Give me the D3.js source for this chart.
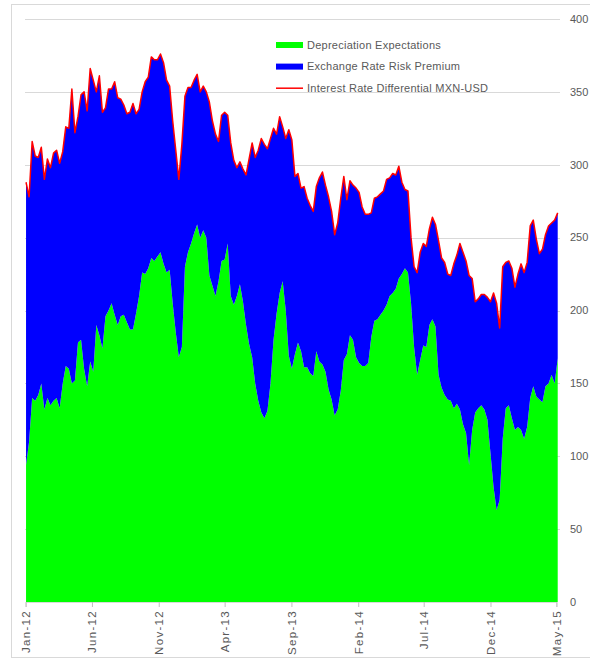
<!DOCTYPE html>
<html>
<head>
<meta charset="utf-8">
<script src="https://cdn.jsdelivr.net/npm/d3@7/dist/d3.min.js"></script>
<style>
  body { margin: 0; background: #fff; }
  text { font-family: "Liberation Sans", Arial, sans-serif; fill: #595959; }
</style>
</head>
<body>
<div id="chart"></div>
<script>
// weekly observations, first one on this date
var firstWeek = "2012-01-02";

var seriesNames = ["Depreciation Expectations", "Exchange Rate Risk Premium", "Interest Rate Differential MXN-USD"];
var tickLabels = ["Jan-12", "Jun-12", "Nov-12", "Apr-13", "Sep-13", "Feb-14", "Jul-14", "Dec-14", "May-15"];
var yTicks = [0, 50, 100, 150, 200, 250, 300, 350, 400];

// green area (basis points)
var depreciation = [
  94, 110, 140, 138, 142, 150, 132, 140, 135, 138, 140, 133, 150, 162, 160, 150, 152, 178, 180, 160,
  148, 165, 158, 190, 183, 174, 196, 200, 205, 197, 190, 196, 197, 192, 187, 187, 198, 210, 226, 225,
  229, 236, 234, 237, 240, 232, 226, 228, 205, 185, 168, 175, 230, 240, 246, 253, 259, 250, 255, 250,
  224, 217, 210, 220, 234, 235, 246, 210, 204, 210, 218, 206, 190, 177, 168, 150, 138, 130, 126, 131,
  150, 180, 198, 212, 220, 200, 169, 160, 170, 178, 172, 161, 161, 157, 155, 172, 165, 163, 158, 146,
  139, 128, 132, 145, 166, 170, 183, 180, 168, 164, 162, 162, 164, 182, 193, 194, 197, 200, 204, 210,
  212, 215, 222, 225, 229, 226, 205, 175, 156, 166, 176, 175, 190, 194, 189, 156, 147, 142, 139, 138,
  133, 136, 132, 122, 116, 94, 118, 130, 133, 135, 132, 125, 102, 79, 63, 70, 112, 133, 135, 126,
  118, 120, 118, 112, 120, 140, 148, 141, 139, 137, 148, 150, 156, 150, 167
];

// red line = top of the stack (basis points)
var interestDiff = [
  288, 278, 316, 306, 305, 312, 290, 304, 298, 308, 310, 301, 309, 326, 325, 352, 322, 333, 348, 350,
  337, 366, 358, 350, 361, 336, 339, 352, 352, 357, 346, 345, 341, 335, 336, 342, 335, 338, 350, 357,
  360, 374, 372, 372, 376, 370, 358, 354, 330, 310, 290, 314, 347, 353, 353, 358, 362, 350, 354, 350,
  343, 330, 321, 316, 334, 336, 334, 315, 303, 298, 302, 297, 293, 304, 315, 305, 310, 318, 314, 311,
  318, 325, 321, 333, 326, 318, 324, 317, 292, 294, 284, 285, 277, 272, 268, 285, 291, 295, 286, 278,
  268, 252, 260, 277, 292, 276, 289, 286, 284, 281, 271, 266, 266, 267, 277, 278, 280, 282, 290, 291,
  294, 293, 299, 288, 283, 282, 250, 230, 226, 240, 246, 244, 256, 264, 259, 248, 236, 233, 225, 224,
  232, 238, 246, 240, 234, 224, 222, 206, 208, 211, 211, 209, 206, 212, 205, 188, 230, 233, 234, 229,
  216, 225, 232, 226, 233, 258, 262, 249, 239, 242, 252, 258, 260, 262, 267
];

var colors = ["#00ff00", "#0000ff", "#ff0000"];

function init() {
  var w = 590;
  var h = 659;

  var start = d3.timeParse("%Y-%m-%d")(firstWeek);
  var parseTick = d3.timeParse("%b-%y");

  // risk premium is what is left between depreciation and the rate differential
  var dataset = depreciation.map(function(d, i) {
    return {
      date: d3.timeDay.offset(start, 7 * i),
      dep: d,
      prem: interestDiff[i] - d,
      total: interestDiff[i]
    };
  });

  var svg = d3.select("#chart")
              .append("svg")
              .attr("width", w)
              .attr("height", h);

  // chart frame
  svg.append("rect")
     .attr("x", 11.5)
     .attr("y", 4.5)
     .attr("width", 600)
     .attr("height", 653)
     .attr("fill", "none")
     .attr("stroke", "#d9d9d9");

  var xScale = d3.scaleTime()
                 .domain([parseTick("Jan-12"), parseTick("May-15")])
                 .range([25.6, 556.4]);

  var yScale = d3.scaleLinear()
                 .domain([0, 400])
                 .range([602, 19]);

  // gridlines
  svg.append("g")
     .selectAll("line")
     .data(yTicks.slice(1))
     .enter()
     .append("line")
     .attr("x1", 25)
     .attr("x2", 560)
     .attr("y1", function(d) { return Math.round(yScale(d)) + 0.5; })
     .attr("y2", function(d) { return Math.round(yScale(d)) + 0.5; })
     .attr("stroke", "#d9d9d9")
     .attr("stroke-width", 1);

  var stack = d3.stack().keys(["dep", "prem"]);
  var layers = stack(dataset);

  var area = d3.area()
               .x(function(d) { return xScale(d.data.date); })
               .y0(function(d) { return yScale(d[0]); })
               .y1(function(d) { return yScale(d[1]); });

  svg.append("g")
     .selectAll("path")
     .data(layers)
     .enter()
     .append("path")
     .attr("d", area)
     .attr("fill", function(d, i) { return colors[i]; });

  var line = d3.line()
               .x(function(d) { return xScale(d.date); })
               .y(function(d) { return yScale(d.total); });

  svg.append("path")
     .datum(dataset)
     .attr("d", line)
     .attr("fill", "none")
     .attr("stroke", colors[2])
     .attr("stroke-width", 1.5)
     .attr("stroke-linejoin", "round");

  // x axis with rotated month labels
  var xAxis = d3.axisBottom(xScale)
                .tickValues(tickLabels.map(parseTick))
                .tickFormat(d3.timeFormat("%b-%y"))
                .tickSizeOuter(0)
                .tickSize(5);

  var gx = svg.append("g")
              .attr("transform", "translate(0," + 602 + ")")
              .call(xAxis);
  gx.select(".domain").attr("stroke", "#d9d9d9");
  gx.selectAll(".tick line").attr("stroke", "#bfbfbf");
  gx.selectAll("text")
    .attr("transform", "rotate(-90)")
    .attr("text-anchor", "end")
    .attr("x", -8)
    .attr("y", 0)
    .attr("dy", "0.35em")
    .attr("font-size", 11.5)
    .attr("letter-spacing", 1.3)
    .attr("fill", "#595959");

  // y labels on the right
  svg.append("g")
     .selectAll("text")
     .data(yTicks)
     .enter()
     .append("text")
     .attr("x", 570)
     .attr("y", function(d) { return yScale(d); })
     .attr("dy", "0.35em")
     .attr("font-size", 11)
     .text(function(d) { return d; });

  // legend
  var legend = svg.append("g").attr("transform", "translate(276,45)");
  seriesNames.forEach(function(name, i) {
    var g = legend.append("g").attr("transform", "translate(0," + (i * 21.6) + ")");
    if (i < 2) {
      g.append("rect")
       .attr("x", 0).attr("y", -3)
       .attr("width", 27).attr("height", 6)
       .attr("fill", colors[i]);
    } else {
      g.append("line")
       .attr("x1", 0).attr("x2", 27)
       .attr("y1", 0).attr("y2", 0)
       .attr("stroke", colors[i])
       .attr("stroke-width", 1.5);
    }
    g.append("text")
     .attr("x", 31)
     .attr("y", 0)
     .attr("dy", "0.35em")
     .attr("font-size", 11)
     .attr("letter-spacing", 0.25)
     .text(name);
  });
}

window.onload = init;
</script>
</body>
</html>
